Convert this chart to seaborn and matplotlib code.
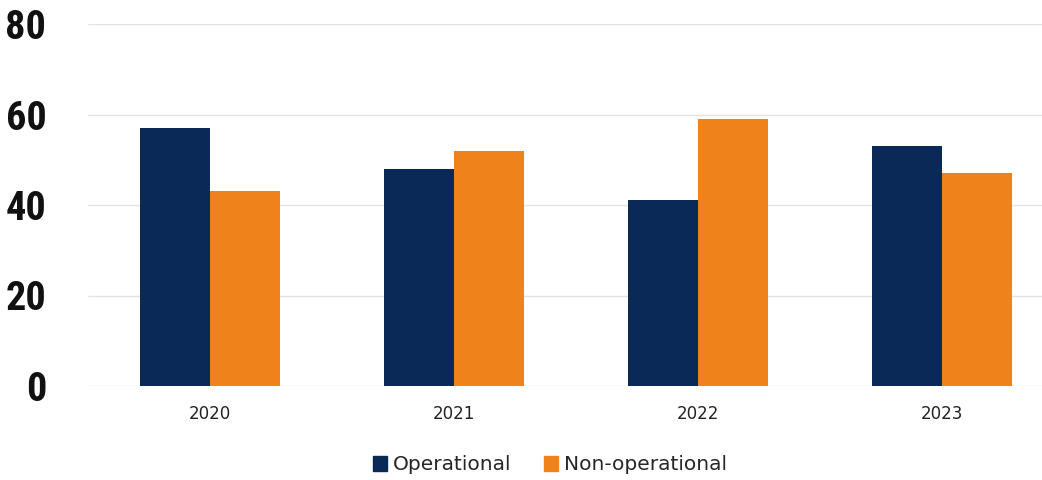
import pandas as pd
import matplotlib.pyplot as plt
import seaborn as sns
from matplotlib import font_manager

# values (each year adds up to 100)
years = ['2020', '2021', '2022', '2023']
operational = [57, 48, 41, 53]
non_operational = [43, 52, 59, 47]
series = ['Operational', 'Non-operational']
colors = ['#0b2957', '#f0821c']

df = pd.DataFrame({
    'year': years * 2,
    'value': operational + non_operational,
    'type': [series[0]] * len(years) + [series[1]] * len(years),
})

sns.set_style('white')
plt.rcParams['font.family'] = ['DejaVu Sans']

# condensed face for the y labels if one is around
names = {f.name for f in font_manager.fontManager.ttflist}
narrow = None
for cand in ['Roboto Condensed', 'Open Sans Condensed', 'DejaVu Sans Condensed',
             'Liberation Sans Narrow', 'Noto Sans Condensed']:
    if cand in names:
        narrow = cand
        break

fig = plt.figure(figsize=(10.42, 4.8), dpi=100)
ax = fig.add_axes([88 / 1042, 94 / 480, 1 - 88 / 1042, 1 - 24 / 480 - 94 / 480])

sns.barplot(data=df, x='year', y='value', hue='type', palette=colors,
            width=0.575, gap=0, saturation=1, linewidth=0, ax=ax, legend=False)

ax.set_ylim(0, 80)
ax.set_xlim(-0.5, 3.41)
ax.set_yticks([0, 20, 40, 60, 80])
ax.yaxis.grid(True, color='#e4e4e4', linewidth=1)
ax.set_axisbelow(True)
for s in ax.spines.values():
    s.set_visible(False)
ax.set_xlabel('')
ax.set_ylabel('')
ax.tick_params(axis='both', length=0)
ax.tick_params(axis='y', pad=30)
ax.tick_params(axis='x', pad=14)

for lbl in ax.get_yticklabels():
    if narrow:
        lbl.set_family(narrow)
        lbl.set_fontsize(29)
    else:
        lbl.set_fontsize(23)
    lbl.set_fontweight('bold')
    lbl.set_color('#111111')
for lbl in ax.get_xticklabels():
    lbl.set_fontsize(12)
    lbl.set_color('#222222')

handles = [plt.Rectangle((0, 0), 1, 1, color=c) for c in colors]
fig.legend(handles, series, loc='center', bbox_to_anchor=(550 / 1042, 1 - 465 / 480),
           ncol=2, frameon=False, handlelength=0.7, handleheight=0.7,
           handletextpad=0.3, columnspacing=1.6, prop={'size': 14.5})

fig.savefig('out.png', dpi=100)
